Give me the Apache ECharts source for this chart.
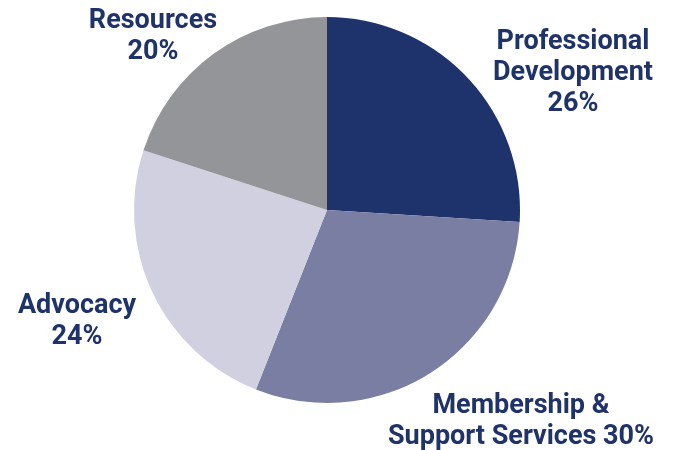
<!DOCTYPE html>
<html lang="en">
  <head>
    <meta charset="UTF-8" />
    <title>Budget</title>
    <script src="https://cdn.jsdelivr.net/npm/echarts@6/dist/echarts.min.js"></script>
  </head>
  <body style="margin: 0">
    <div id="main" style="height: 450px; width: 678px"></div>
  </body>
</html>
<script>
  var categories = ['Professional\nDevelopment', 'Membership &\nSupport Services', 'Advocacy', 'Resources']
  var values = [26, 30, 24, 20]
  var colors = ['#1e336b', '#7b7ea3', '#d0d0e1', '#939598']

  // label centres, matched to the picture
  var labelPos = [
    [573, 73],
    [521, 422],
    [77, 322],
    [153, 37]
  ]

  const chartInstance = echarts.init(document.getElementById('main'))

  const option = {
    animation: false,
    series: [
      {
        type: 'pie',
        center: [327, 210],
        radius: 193,
        startAngle: 90,
        clockwise: true,
        data: categories.map((name, i) => {
          return { name: name, value: values[i], itemStyle: { color: colors[i] } }
        }),
        label: {
          show: true,
          position: 'outside',
          overflow: 'none',
          edgeDistance: 0,
          color: '#1f3369',
          fontFamily: 'Roboto',
          fontWeight: 'bold',
          fontSize: 27,
          lineHeight: 31,
          align: 'center',
          formatter: function (p) {
            if (p.dataIndex === 1) {
              return 'Membership &\nSupport Services ' + p.value + '%'
            }
            return p.name + '\n' + p.value + '%'
          }
        },
        labelLine: { show: false },
        labelLayout: function (p) {
          const pos = labelPos[p.dataIndex]
          return { x: pos[0], y: pos[1], align: 'center', verticalAlign: 'middle' }
        }
      }
    ]
  }

  chartInstance.setOption(option)
</script>
